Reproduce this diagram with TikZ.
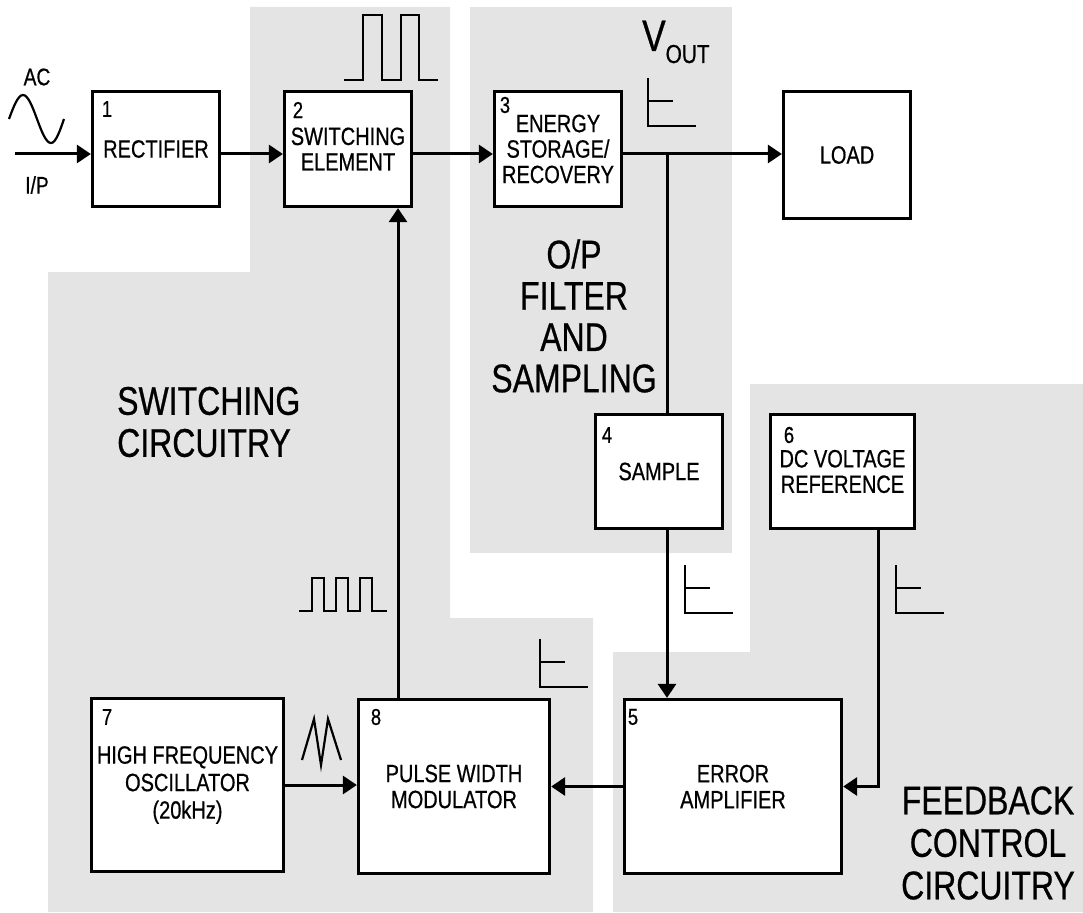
\documentclass[tikz,border=0pt]{standalone}
\usepackage{fontspec}
\setmainfont{Liberation Sans}[FakeStretch=0.8,FakeBold=0.6]
\usetikzlibrary{arrows.meta}
\definecolor{zonegray}{RGB}{228,228,228}
\tikzset{
  blk/.style={draw,line width=3.3pt,fill=white,inner sep=0pt,align=center,font=\fontsize{25}{25.5}\selectfont},
  num/.style={inner sep=0pt,font=\fontsize{23}{23}\selectfont},
  zonetext/.style={inner sep=0pt,font=\fontsize{40}{42}\selectfont},
  wire/.style={line width=3pt},
  sig/.style={wire,-{Triangle[length=14pt,width=18pt]}},
  wave/.style={line width=2.2pt},
}
\begin{document}
\begin{tikzpicture}[x=1pt,y=-1pt]
\useasboundingbox (0,0) rectangle (1083,912);
% shaded zones
\fill[zonegray] (250,7) -- (450,7) -- (450,618) -- (593,618) -- (593,912) -- (48,912) -- (48,272) -- (250,272) -- cycle;
\fill[zonegray] (470,7) rectangle (732,553);
\fill[zonegray] (750,384) -- (1083,384) -- (1083,912) -- (613,912) -- (613,652) -- (750,652) -- cycle;

\node[zonetext,anchor=west,align=left] (swzone) at (117,422) {SWITCHING\\CIRCUITRY};
\node[zonetext,align=center,font=\fontsize{40}{41.3}\selectfont] (opzone) at (574,316) {O/P\\FILTER\\AND\\SAMPLING};
\node[zonetext,align=center,font=\fontsize{40}{42.5}\selectfont] (fbzone) at (988,843) {FEEDBACK\\CONTROL\\CIRCUITRY};

% blocks
\node[blk,minimum width=127pt,minimum height=115pt] (rect) at (156,149) {RECTIFIER};
\node[blk,minimum width=127pt,minimum height=115pt] (sw) at (348,149) {SWITCHING\\ELEMENT};
\node[blk,minimum width=127pt,minimum height=115pt] (es) at (558,149) {ENERGY\\STORAGE/\\RECOVERY};
\node[blk,minimum width=127pt,minimum height=127pt] (load) at (847,155) {LOAD};
\node[blk,minimum width=127pt,minimum height=114pt] (samp) at (659,471.5) {SAMPLE};
\node[blk,minimum width=144pt,minimum height=114pt] (dcref) at (842.5,471.5) {DC VOLTAGE\\REFERENCE};
\node[blk,minimum width=217pt,minimum height=174pt,font=\fontsize{25}{26}\selectfont] (err) at (733,786.5) {ERROR\\AMPLIFIER};
\node[blk,minimum width=191pt,minimum height=174pt,font=\fontsize{25}{26}\selectfont] (pwm) at (454,786.5) {PULSE WIDTH\\MODULATOR};
\node[blk,minimum width=192pt,minimum height=173pt,font=\fontsize{25}{27.5}\selectfont] (osc) at (187.5,785) {HIGH FREQUENCY\\OSCILLATOR\\(20kHz)};

\node[num] (n1) at (107,109) {1};
\node[num] (n2) at (298,110) {2};
\node[num] (n3) at (505,105) {3};
\node[num] (n4) at (607,435) {4};
\node[num] (n5) at (633,717) {5};
\node[num] (n6) at (789,435) {6};
\node[num] (n7) at (107,717) {7};
\node[num] (n8) at (376,717) {8};

% signal path
\coordinate (in) at (15,154);
\coordinate (tap) at (667,154);
\draw[sig] (in) -- (in -| rect.west);
\draw[sig] (in -| rect.east) -- (in -| sw.west);
\draw[sig] (in -| sw.east) -- (in -| es.west);
\draw[sig] (in -| es.east) -- (in -| load.west);
\draw[wire] (tap) -- (tap |- samp.north);
\draw[sig] (tap |- samp.south) -- (tap |- err.north);
\draw[sig] ([xshift=35.5pt]dcref.south) |- (err.east);
\draw[sig] (err.west) -- (pwm.east);
\draw[sig] (osc.east) -- (osc.east -| pwm.west);
\draw[sig] ([xshift=-56pt]pwm.north) -- ([xshift=-56pt]pwm.north |- sw.south);

\node[num,font=\fontsize{24}{24}\selectfont] (ac) at (37,77) {AC};
\node[num,font=\fontsize{24}{24}\selectfont] (ip) at (37,185) {I/P};
\node[inner sep=0pt,anchor=base west] (vout) at (642,51) {\fontsize{44}{44}\selectfont V\fontsize{26}{26}\selectfont\raisebox{-12pt}{OUT}};

% waveforms
\draw[wave] (9,119) sin (23,95) cos (37,119) sin (51,143) cos (64,119);
\draw[wave] (344,80) -| (363,15) -| (382,80) -| (401,15) -| (419,80) -- (438,80);
\draw[wave] (299,611) -| (312,578) -| (324,611) -| (336,578) -| (348,611) -| (360,578) -| (372,611) -- (387,611);
\draw[wave] (302,760) -- (314,719) -- (321,765) -- (328,719) -- (341,760);
\foreach \X/\Y in {648/78,685/565,896/565,540/639}
  \draw[wave] (\X,\Y) -- ++(0,48) -- ++(48,0) (\X,\Y) ++(0,23) -- ++(25,0);
\end{tikzpicture}
\end{document}
